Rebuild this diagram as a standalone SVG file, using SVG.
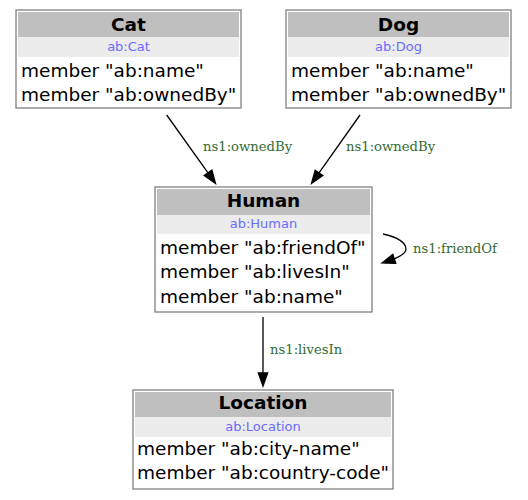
<svg xmlns="http://www.w3.org/2000/svg" width="528" height="500" viewBox="0 0 528 500">
<style>
.box{fill:#ffffff;stroke:#808080;stroke-width:1.3}
.hd{fill:#bfbfbf}
.sb{fill:#ececec}
.ttl{font-family:"DejaVu Sans",sans-serif;font-size:18.5px;font-weight:bold;fill:#000;text-anchor:middle}
.sub{font-family:"DejaVu Sans",sans-serif;font-size:13px;fill:#6b6bff;text-anchor:middle}
.mem{font-family:"DejaVu Sans",sans-serif;font-size:18.5px;fill:#000}
.edge{fill:none;stroke:#000;stroke-width:1.3}
.ah{fill:#000;stroke:#000;stroke-width:1.3}
.lbl{font-family:"DejaVu Serif",serif;font-size:13.2px;fill:#336b33}
</style>
<rect width="528" height="500" fill="#ffffff"/>
<g id="connectors">
  <g id="e-cat-human">
    <path class="edge" d="M166.7,115 L208,172.8"/>
    <polygon class="ah" points="215.5,183.5 204.2,175.5 211.9,170.1"/>
    <text class="lbl" x="203" y="151">ns1:ownedBy</text>
  </g>
  <g id="e-dog-human">
    <path class="edge" d="M360,115 L319,172.9"/>
    <polygon class="ah" points="311.5,183.5 315.2,170.2 322.8,175.6"/>
    <text class="lbl" x="346" y="151">ns1:ownedBy</text>
  </g>
  <g id="e-human-human">
    <path class="edge" d="M383,234 C398,237 406,243 406,249 C406,253 401,256 394.3,258.9"/>
    <polygon class="ah" points="382,263 392.8,254.4 395.8,263.4"/>
    <text class="lbl" x="413" y="253">ns1:friendOf</text>
  </g>
  <g id="e-human-location">
    <path class="edge" d="M263,317 L263,373"/>
    <polygon class="ah" points="263,386 258.3,373 267.7,373"/>
    <text class="lbl" x="270" y="354">ns1:livesIn</text>
  </g>
</g>
<g id="node-cat">
  <rect class="box" x="16" y="10" width="225" height="98"/>
  <rect class="hd" x="18" y="12" width="221" height="25"/>
  <rect class="sb" x="18" y="37" width="221" height="20"/>
  <text class="ttl" x="128.5" y="31">Cat</text>
  <text class="sub" x="128.5" y="51">ab:Cat</text>
  <text class="mem" x="21" y="77">member "ab:name"</text>
  <text class="mem" x="21" y="101">member "ab:ownedBy"</text>
</g>
<g id="node-dog">
  <rect class="box" x="286" y="10" width="225" height="98"/>
  <rect class="hd" x="288" y="12" width="221" height="25"/>
  <rect class="sb" x="288" y="37" width="221" height="20"/>
  <text class="ttl" x="398.5" y="31">Dog</text>
  <text class="sub" x="398.5" y="51">ab:Dog</text>
  <text class="mem" x="291" y="77">member "ab:name"</text>
  <text class="mem" x="291" y="101">member "ab:ownedBy"</text>
</g>
<g id="node-human">
  <rect class="box" x="155" y="187" width="217" height="125"/>
  <rect class="hd" x="157" y="189" width="213" height="26"/>
  <rect class="sb" x="157" y="215" width="213" height="19"/>
  <text class="ttl" x="263.5" y="207">Human</text>
  <text class="sub" x="263.5" y="228">ab:Human</text>
  <text class="mem" x="160" y="253.5">member "ab:friendOf"</text>
  <text class="mem" x="160" y="278">member "ab:livesIn"</text>
  <text class="mem" x="160" y="302.5">member "ab:name"</text>
</g>
<g id="node-location">
  <rect class="box" x="133" y="390" width="260" height="99"/>
  <rect class="hd" x="135" y="392" width="256" height="25"/>
  <rect class="sb" x="135" y="417" width="256" height="20"/>
  <text class="ttl" x="263" y="409">Location</text>
  <text class="sub" x="263" y="431">ab:Location</text>
  <text class="mem" x="137" y="455">member "ab:city-name"</text>
  <text class="mem" x="137" y="479">member "ab:country-code"</text>
</g>
</svg>
